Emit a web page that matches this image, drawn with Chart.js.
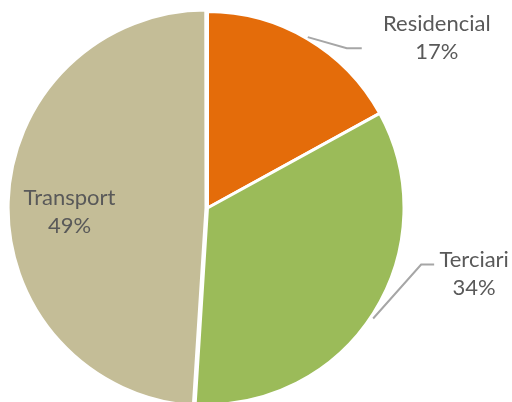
<!DOCTYPE html>
<html>
<head>
<meta charset="utf-8">
<script src="https://cdn.jsdelivr.net/npm/chart.js@4"></script>
<style>
  html, body { margin: 0; padding: 0; background: #fff; }
  #wrap { width: 512px; height: 402px; }
</style>
</head>
<body>
<div id="wrap"><canvas id="chart"></canvas></div>
<script>
const categories = ['Residencial', 'Terciari', 'Transport'];
const shares = [17, 34, 49];
const shareLabels = ['17%', '34%', '49%'];
const colors = ['#E46C0A', '#9BBB59', '#C4BD97'];

// label placement: 'out' labels sit beside the rim with a leader line,
// 'in' labels sit inside the slice
const labelPlacement = [
  { mode: 'out', dx: 130, dy: -9, lead: [[1, -3], [40, 8], [55, 8]] },
  { mode: 'out', dx: 102, dy: -45, lead: [[1, 6], [49, -48], [62, -48]] },
  { mode: 'in', dx: -138, dy: -3 }
];

const labelFont = '22px Lato';
const lineGap = 28;

const sliceLabels = {
  id: 'sliceLabels',
  afterDatasetsDraw(chart) {
    const ctx = chart.ctx;
    const arcs = chart.getDatasetMeta(0).data;
    ctx.save();
    ctx.font = labelFont;
    ctx.textAlign = 'center';
    ctx.textBaseline = 'alphabetic';
    arcs.forEach((arc, i) => {
      const p = arc.getProps(['x', 'y', 'startAngle', 'endAngle', 'outerRadius'], true);
      const mid = (p.startAngle + p.endAngle) / 2;
      const r = p.outerRadius - 1.5;
      const ax = p.x + Math.cos(mid) * r;
      const ay = p.y + Math.sin(mid) * r;
      const cfg = labelPlacement[i];
      let lx, ly;
      if (cfg.mode === 'out') {
        lx = ax + cfg.dx;
        ly = ay + cfg.dy;
        ctx.strokeStyle = '#A6A6A6';
        ctx.lineWidth = 2;
        ctx.beginPath();
        cfg.lead.forEach((pt, k) => {
          if (k === 0) ctx.moveTo(ax + pt[0], ay + pt[1]);
          else ctx.lineTo(ax + pt[0], ay + pt[1]);
        });
        ctx.stroke();
      } else {
        lx = p.x + cfg.dx;
        ly = p.y + cfg.dy;
      }
      ctx.fillStyle = '#595959';
      ctx.fillText(categories[i], lx, ly);
      ctx.fillText(shareLabels[i], lx, ly + lineGap);
    });
    ctx.restore();
  }
};

new Chart(document.getElementById('chart'), {
  type: 'pie',
  data: {
    labels: categories,
    datasets: [{
      data: shares,
      backgroundColor: colors,
      borderColor: '#FFFFFF',
      borderWidth: 3,
      offset: [0, 0, 6]
    }]
  },
  options: {
    responsive: true,
    maintainAspectRatio: false,
    animation: false,
    radius: 196.5,
    layout: { padding: { left: 0, right: 97, top: 14, bottom: 0 } },
    plugins: {
      legend: { display: false },
      tooltip: { enabled: false }
    }
  },
  plugins: [sliceLabels]
});
</script>
</body>
</html>
